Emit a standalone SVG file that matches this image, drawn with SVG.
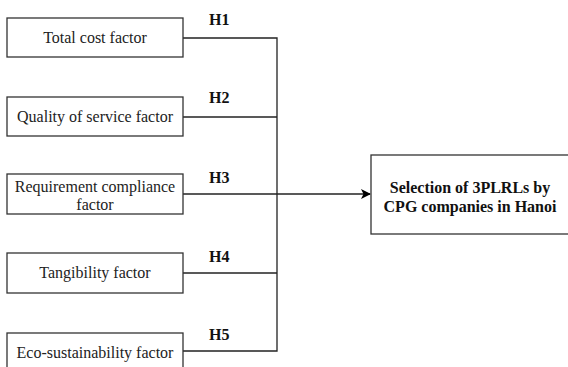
<svg xmlns="http://www.w3.org/2000/svg" width="568" height="367" viewBox="0 0 568 367">
  <defs>
    <marker id="arrow" viewBox="0 0 10 10" refX="9" refY="5" markerWidth="10" markerHeight="10" markerUnits="userSpaceOnUse" orient="auto">
      <path d="M0,0 L10,5 L0,10 L2.5,5 Z" fill="#000"/>
    </marker>
  </defs>
  <style>
    .box { fill: #fff; stroke: #333; stroke-width: 1.3; }
    .lbl { font-family: "Liberation Serif", "Times New Roman", serif; font-size: 16px; fill: #222; text-anchor: middle; }
    .bold { font-weight: bold; fill: #111; }
    .hyp { font-family: "Liberation Serif", "Times New Roman", serif; font-size: 16px; font-weight: bold; fill: #111; }
    .wire { fill: none; stroke: #222; stroke-width: 1.3; }
  </style>
  <rect width="568" height="367" fill="#fff"/>

  <!-- connectors -->
  <g id="connectors">
    <polyline class="wire" points="183,38 277,38 277,351 183,351"/>
    <line class="wire" x1="183" y1="117" x2="277" y2="117"/>
    <line class="wire" x1="183" y1="273" x2="277" y2="273"/>
    <line class="wire" x1="183" y1="194" x2="370" y2="194" marker-end="url(#arrow)"/>
    <text class="hyp" x="209" y="25">H1</text>
    <text class="hyp" x="209" y="103">H2</text>
    <text class="hyp" x="209" y="183">H3</text>
    <text class="hyp" x="209" y="262">H4</text>
    <text class="hyp" x="209" y="340">H5</text>
  </g>

  <g id="total-cost">
    <rect class="box" x="7" y="18" width="176" height="39"/>
    <text class="lbl" x="95" y="43">Total cost factor</text>
  </g>
  <g id="quality-of-service">
    <rect class="box" x="7" y="97" width="176" height="39"/>
    <text class="lbl" x="95" y="122">Quality of service factor</text>
  </g>
  <g id="requirement-compliance">
    <rect class="box" x="7" y="174" width="176" height="40"/>
    <text class="lbl" x="95" y="192">Requirement compliance</text>
    <text class="lbl" x="95" y="210">factor</text>
  </g>
  <g id="tangibility">
    <rect class="box" x="7" y="253" width="176" height="40"/>
    <text class="lbl" x="95" y="278">Tangibility factor</text>
  </g>
  <g id="eco-sustainability">
    <rect class="box" x="7" y="333" width="176" height="40"/>
    <text class="lbl" x="95" y="358">Eco-sustainability factor</text>
  </g>
  <g id="selection">
    <rect class="box" x="371" y="155" width="198" height="79"/>
    <text class="lbl bold" x="470" y="193">Selection of 3PLRLs by</text>
    <text class="lbl bold" x="470" y="212">CPG companies in Hanoi</text>
  </g>
</svg>
